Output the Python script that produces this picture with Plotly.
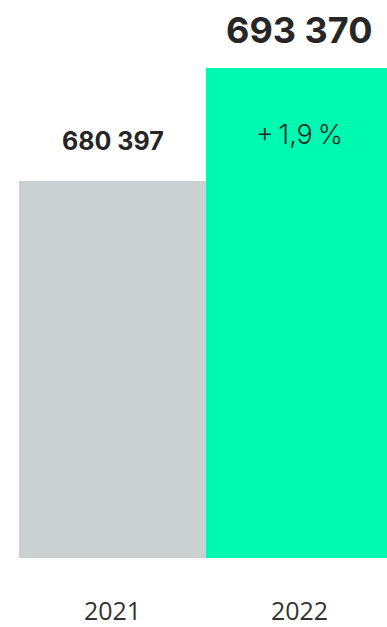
import plotly.graph_objects as go

# Yearly totals
years = ["2021", "2022"]
totals = [680397, 693370]
bar_colors = ["#cbd1d1", "#00f9b0"]

# Lower bound of the value axis (the bars are shown from this level up)
axis_floor = 637234
axis_ceiling = 701129


def fmt_thousands(v):
    return f"{v:,}".replace(",", " ")


change_pct = (totals[1] / totals[0] - 1) * 100
change_text = f"+\u2009{change_pct:.1f}\u2009%".replace(".", ",")

fig = go.Figure(
    go.Bar(
        x=years,
        y=totals,
        marker=dict(color=bar_colors, line=dict(width=0)),
        hoverinfo="skip",
    )
)

# Value labels above each bar (category axis: annotations use category index)
fig.add_annotation(
    x=0, y=totals[0], text=f"<b>{fmt_thousands(totals[0])}</b>",
    showarrow=False, yanchor="middle", yshift=40,
    font=dict(family="Inter", size=25, color="#262626"),
)
fig.add_annotation(
    x=1, y=totals[1], text=f"<b>{fmt_thousands(totals[1])}</b>",
    showarrow=False, yanchor="middle", yshift=38,
    font=dict(family="Inter", size=36, color="#262626"),
)
# Growth label inside the 2022 bar
fig.add_annotation(
    x=1, y=totals[1], text=change_text,
    showarrow=False, yanchor="middle", yshift=-67,
    font=dict(family="Inter", size=27, color="#1f2a26", weight=300),
)

fig.update_layout(
    width=387,
    height=627,
    margin=dict(l=19, r=0, t=0, b=67),
    paper_bgcolor="white",
    plot_bgcolor="white",
    bargap=0,
    showlegend=False,
    xaxis=dict(
        type="category",
        range=[-0.5, 1.468],
        showgrid=False, zeroline=False, showline=False, ticks="",
        tickfont=dict(family="Open Sans", size=25, color="#333333"),
        ticklabelstandoff=36,
    ),
    yaxis=dict(
        range=[axis_floor, axis_ceiling], visible=False,
        showgrid=False, zeroline=False,
    ),
)

fig.write_html("out.html")
